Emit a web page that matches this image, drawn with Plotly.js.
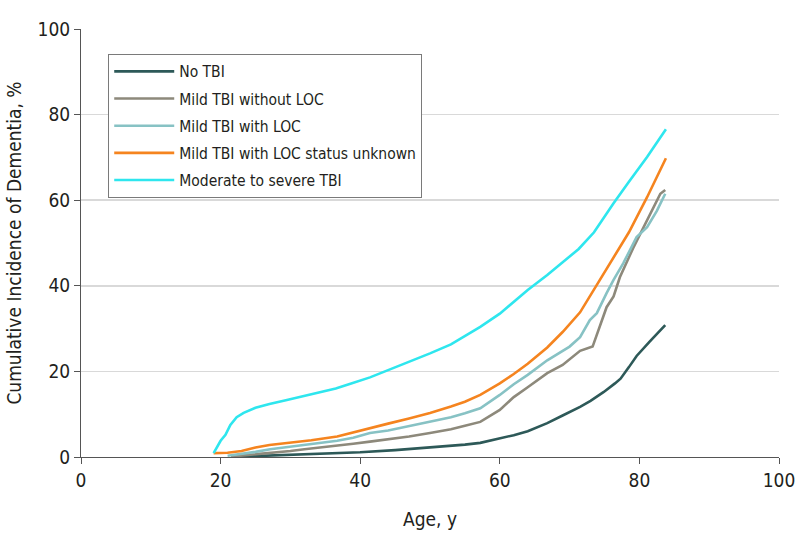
<!DOCTYPE html>
<html>
<head>
<meta charset="utf-8">
<script src="https://cdn.plot.ly/plotly-3.0.1.min.js"></script>
<style>
  body { margin: 0; background: #fff; }
  #myDiv { width: 798px; height: 543px; }
</style>
</head>
<body>
<div id="myDiv"></div>
<script>
// values (age in years, cumulative incidence in %)
var noTbiAge = [21.5, 25, 30, 35, 40, 45, 50, 55, 57.2, 60, 62, 64, 66.8, 69, 71.5, 73, 74.9, 76.5, 77.3, 78.5, 79.6, 81.5, 83.7];
var noTbiPct = [0, 0.2, 0.4, 0.7, 1.1, 1.6, 2.2, 2.9, 3.3, 4.3, 5.1, 6.0, 7.9, 9.7, 11.7, 13.1, 15.2, 17.2, 18.3, 21, 23.6, 27, 30.8];

var noLocAge = [21.5, 23, 25, 27, 30, 32, 36.7, 39, 41.4, 44, 47, 50, 53, 55, 57.2, 60, 62, 64, 66.8, 69, 71.5, 73.3, 74.3, 75.3, 76.3, 77.2, 79.1, 81.1, 82, 83, 83.7];
var noLocPct = [0.1, 0.3, 0.6, 0.9, 1.4, 1.8, 2.6, 3.1, 3.6, 4.1, 4.8, 5.6, 6.5, 7.3, 8.2, 11.0, 14.0, 16.3, 19.6, 21.5, 24.8, 25.8, 30.4, 35, 37.5, 42, 48.8, 55.4, 58, 61.5, 62.4];

var withLocAge = [21, 23, 25, 27.1, 30, 32, 36.7, 39, 41.4, 44, 47, 50, 53, 55, 57.2, 60, 62, 64, 66.8, 70, 71.5, 72.9, 73.9, 75.3, 76.3, 77.7, 79.6, 81.1, 82.5, 83.7];
var withLocPct = [0.3, 0.7, 1.2, 1.8, 2.4, 2.8, 3.8, 4.5, 5.6, 6.2, 7.2, 8.3, 9.3, 10.2, 11.4, 14.5, 17.0, 19.2, 22.6, 25.8, 28.0, 32, 33.6, 38.3, 41.4, 45.3, 51.4, 53.7, 57.5, 61.5];

var unknownAge = [19, 21, 23, 25, 27, 30, 33, 36.7, 39, 41.4, 44, 47, 50, 53, 55, 57.2, 60, 62, 64, 66.8, 69, 71.5, 74, 76.3, 78.5, 81.1, 83.8];
var unknownPct = [0.9, 1.0, 1.4, 2.2, 2.8, 3.3, 3.9, 4.8, 5.8, 6.7, 7.8, 9.0, 10.3, 11.8, 12.9, 14.5, 17.2, 19.4, 21.8, 25.6, 29.2, 33.8, 40.5, 46.7, 52.5, 60.7, 69.8];

var severeAge = [19, 19.5, 20, 20.7, 21.4, 22.3, 23.3, 25, 27, 29.5, 32, 34.3, 36.5, 38.6, 41.4, 44, 47, 50, 53, 55, 57.2, 60, 62, 64, 66.8, 69, 71.3, 73.5, 76.3, 78.5, 81.1, 83.8];
var severePct = [0.9, 2.5, 3.8, 5.2, 7.5, 9.3, 10.3, 11.5, 12.4, 13.3, 14.3, 15.2, 16.0, 17.1, 18.6, 20.3, 22.2, 24.2, 26.3, 28.2, 30.4, 33.5, 36.3, 39, 42.5, 45.5, 48.6, 52.5, 59.3, 64.3, 70.1, 76.6];

var seriesNames = ["No TBI", "Mild TBI without LOC", "Mild TBI with LOC", "Mild TBI with LOC status unknown", "Moderate to severe TBI"];
var seriesColors = ["#2d5958", "#8d897b", "#87c2c4", "#f5841f", "#2ee6ee"];

var xTicks = [0, 20, 40, 60, 80, 100];
var yTicks = [0, 20, 40, 60, 80, 100];

var FONT = "'Liberation Sans Narrow', 'DejaVu Sans Condensed', 'Noto Sans', sans-serif";

window.onload = function() {
	var ages = [noTbiAge, noLocAge, withLocAge, unknownAge, severeAge];
	var pcts = [noTbiPct, noLocPct, withLocPct, unknownPct, severePct];
	var data = [];
	for (var i = 0; i < seriesNames.length; i++) {
		data.push({
			x: ages[i],
			y: pcts[i],
			type: 'scatter',
			mode: 'lines',
			name: seriesNames[i],
			legendgroup: 'g' + i,
			line: {color: seriesColors[i], width: 2.6}
		});
	}//end for

	var layout = {
		width: 798,
		height: 543,
		margin: {l: 81, r: 19, t: 29, b: 86},
		paper_bgcolor: '#fff',
		plot_bgcolor: '#fff',
		font: {family: FONT, size: 19, color: '#231f20'},
		showlegend: true,
		legend: {
			x: 0.039, y: 0.942, xanchor: 'left', yanchor: 'top',
			bordercolor: '#7a7a7a', borderwidth: 1,
			bgcolor: '#fff',
			font: {family: FONT, size: 15.5, color: '#231f20'},
			traceorder: 'grouped',
			tracegroupgap: 4,
			itemwidth: 60
		},
		xaxis: {
			range: [0, 100],
			tickvals: xTicks,
			ticks: 'outside', ticklen: 6, tickcolor: '#555',
			showline: true, linecolor: '#555', linewidth: 1,
			showgrid: false, zeroline: false,
			tickfont: {size: 19},
			title: {text: 'Age, y', font: {size: 19}, standoff: 22}
		},
		yaxis: {
			range: [0, 100],
			tickvals: yTicks,
			ticks: 'outside', ticklen: 6, tickcolor: '#555',
			showline: true, linecolor: '#555', linewidth: 1,
			showgrid: true, gridcolor: '#d9d9d9', gridwidth: 1.5,
			zeroline: false,
			tickfont: {size: 19},
			title: {text: 'Cumulative Incidence of Dementia, %', font: {size: 19}, standoff: 10}
		}
	};

	Plotly.newPlot('myDiv', data, layout, {displayModeBar: false, staticPlot: true});
} //end window.onload
</script>
</body>
</html>
